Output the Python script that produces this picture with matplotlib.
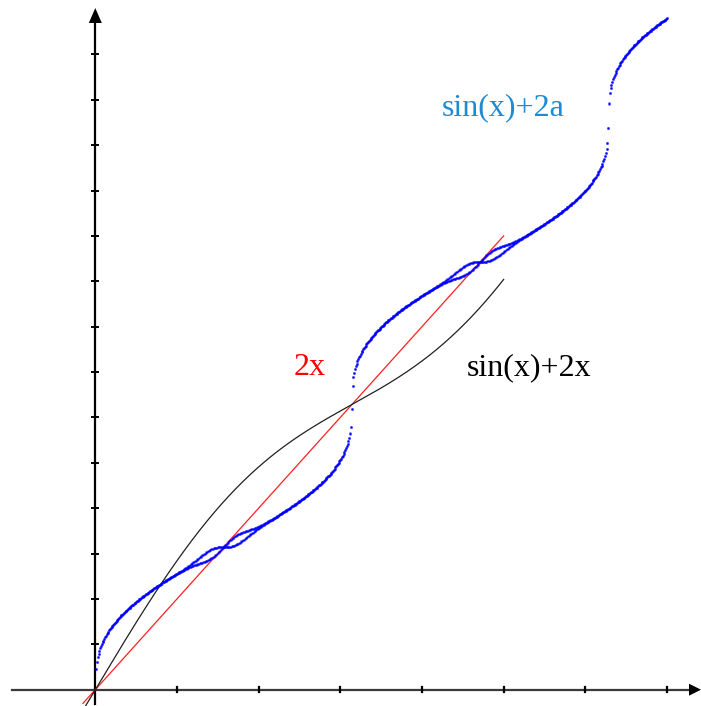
import numpy as np
import matplotlib
matplotlib.use("Agg")
import matplotlib.pyplot as plt

# ---- data / parameters ----
x_range = [-0.15, 5.0]          # domain of the red and black curves
a_range = [0.01, 7.0]           # parameter range of the blue dotted curve
a_step = 0.01
n_iter = 30                      # fixed-point iterations y <- sin(y) + 2a
x_ticks = [1, 2, 3, 4, 5, 6, 7]
y_ticks = list(range(1, 15))
labels = ["sin(x)+2a", "2x", "sin(x)+2x"]
label_pos = [(4.24, 12.66), (2.43, 6.93), (4.55, 6.93)]
label_colors = ["#1c8ad4", "#ff0000", "#000000"]

# ---- figure ----
W, H, DPI = 701, 706, 100
fig = plt.figure(figsize=(W / DPI, H / DPI), dpi=DPI)
ax = fig.add_axes([0, 0, 1, 1])
ox, oy = 95.3, 689.7
sx, sy = 81.67, 45.38
ax.set_xlim(-ox / sx, (W - ox) / sx)
ax.set_ylim(-(H - oy) / sy, oy / sy)
ax.axis("off")

def px2x(p):
    return (p - ox) / sx

def px2y(p):
    return (oy - p) / sy

# axes
ax.plot([px2x(12), px2x(694)], [0, 0], color="#3a3a3a", lw=1.6, zorder=1)
ax.plot([0, 0], [px2y(704), px2y(18)], color="#000000", lw=1.6, zorder=1)
# arrowheads
ax.fill([px2x(701), px2x(689), px2x(689)], [0, px2y(oy - 6), px2y(oy + 6)],
        color="black", lw=0, zorder=2)
ax.fill([0, px2x(ox - 6.5), px2x(ox + 6.5)], [px2y(8), px2y(23), px2y(23)],
        color="black", lw=0, zorder=2)
# ticks
for t in x_ticks:
    ax.plot([t, t], [px2y(oy + 2.5), px2y(oy - 2.5)], color="black", lw=1.6, zorder=1)
for t in y_ticks:
    ax.plot([px2x(ox - 3), px2x(ox + 3)], [t, t], color="black", lw=1.4, zorder=1)

# curves
x = np.linspace(x_range[0], x_range[1], 600)
ax.plot(x, 2 * x, color="#ff2020", lw=0.9, zorder=3)
ax.plot(x, np.sin(x) + 2 * x, color="#202020", lw=0.9, zorder=3)

a = np.arange(a_range[0], a_range[1] + 1e-9, a_step)
y = 2 * a
prev = y
for _ in range(n_iter):
    prev = y
    y = np.sin(y) + 2 * a
ax.plot(np.concatenate([a, a]), np.concatenate([prev, y]), linestyle="none",
        marker="s", ms=1.4, mew=0, color="#0000ff", zorder=4)

for txt, (tx, ty), c in zip(labels, label_pos, label_colors):
    ax.text(tx, ty, txt, color=c, fontsize=23, family="Liberation Serif",
            ha="left", va="baseline")

fig.savefig("out.png", dpi=DPI)
